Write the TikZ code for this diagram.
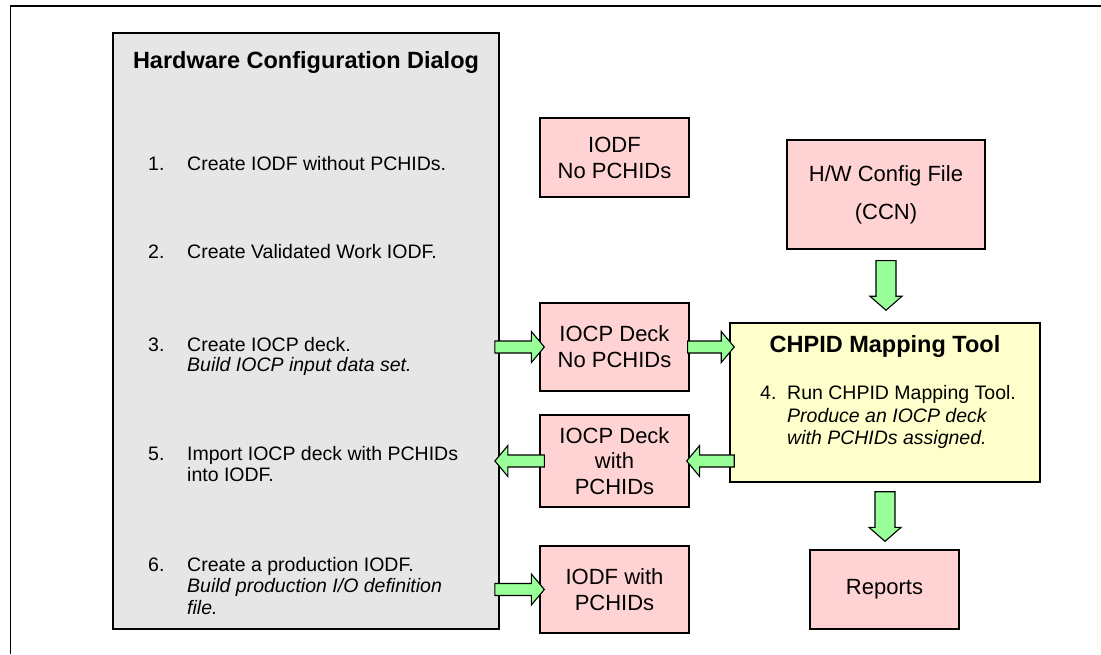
\documentclass[tikz,border=0pt]{standalone}
\usepackage{fontspec}
\setmainfont{Liberation Sans}
\usetikzlibrary{calc}
\definecolor{grayfill}{HTML}{E6E6E6}
\definecolor{pinkfill}{HTML}{FFD3D3}
\definecolor{yellowfill}{HTML}{FFFFCC}
\definecolor{arrowgreen}{HTML}{99FF99}
\tikzset{
  pinkbox/.style={draw=black, line width=1.3pt, fill=pinkfill, align=center, inner sep=0pt,
    font=\fontsize{22}{26}\selectfont},
  bigbox/.style={draw=black, line width=1.8pt, inner sep=0pt},
  itemtext/.style={anchor=base west, inner sep=0pt, font=\fontsize{19.5}{21.5}\selectfont},
  titletext/.style={anchor=base, inner sep=0pt, font=\fontsize{23.5}{26}\selectfont\bfseries},
  blockarrow/.style n args={3}{draw=black, line width=1.1pt, fill=arrowgreen, line join=miter,
    to path={
      ($(\tikztostart)!#1!90:(\tikztotarget)$)
      -- ($($(\tikztotarget)!#3!(\tikztostart)$)!#1!90:(\tikztotarget)$)
      -- ($($(\tikztotarget)!#3!(\tikztostart)$)!#2!90:(\tikztotarget)$)
      -- (\tikztotarget)
      -- ($($(\tikztotarget)!#3!(\tikztostart)$)!#2!-90:(\tikztotarget)$)
      -- ($($(\tikztotarget)!#3!(\tikztostart)$)!#1!-90:(\tikztotarget)$)
      -- ($(\tikztostart)!#1!-90:(\tikztotarget)$)
      -- cycle
    }},
  harrow/.style={blockarrow={6pt}{15.5pt}{13pt}},
  varrow/.style={blockarrow={10pt}{16pt}{14pt}},
}
\begin{document}
\begin{tikzpicture}[x=1pt,y=-1pt]
\useasboundingbox (0,0) rectangle (1101,654);
% outer frame
\draw[line width=1.3pt] (1101,6) -- (10.7,6) -- (10.7,654);

% Hardware Configuration Dialog
\node[bigbox, fill=grayfill, minimum width=386pt, minimum height=596pt] (hcd) at (306,331) {};
\node[titletext] (hcdtitle) at (306,68) {Hardware Configuration Dialog};
\node[itemtext] (n1) at (148,170) {1.};
\node[itemtext] (t1) at (187,170) {Create IODF without PCHIDs.};
\node[itemtext] (n2) at (148,258) {2.};
\node[itemtext] (t2) at (187,258) {Create Validated Work IODF.};
\node[itemtext] (n3) at (148,351) {3.};
\node[itemtext] (t3a) at (187,351) {Create IOCP deck.};
\node[itemtext] (t3b) at (187,371) {\itshape Build IOCP input data set.};
\node[itemtext] (n5) at (148,460) {5.};
\node[itemtext] (t5a) at (187,460) {Import IOCP deck with PCHIDs};
\node[itemtext] (t5b) at (187,481) {into IODF.};
\node[itemtext] (n6) at (148,571) {6.};
\node[itemtext] (t6a) at (187,571) {Create a production IODF.};
\node[itemtext] (t6b) at (187,592) {\itshape Build production I/O definition};
\node[itemtext] (t6c) at (187,614) {\itshape file.};

% pink boxes
\node[pinkbox, minimum width=149pt, minimum height=79pt] (iodfno) at (614.5,157.5) {IODF\\No PCHIDs};
\node[pinkbox, minimum width=198pt, minimum height=109pt, font=\fontsize{22}{38}\selectfont] (hw) at (886,194.5) {H/W Config File\\(CCN)};
\node[pinkbox, minimum width=149pt, minimum height=88pt] (iocpno) at (614.5,347) {IOCP Deck\\No PCHIDs};
\node[pinkbox, minimum width=149pt, minimum height=92pt, font=\fontsize{22}{25.5}\selectfont] (iocpw) at (614.5,461) {IOCP Deck\\with\\PCHIDs};
\node[pinkbox, minimum width=149pt, minimum height=87pt] (iodfw) at (614.5,589.5) {IODF with\\PCHIDs};
\node[pinkbox, minimum width=149pt, minimum height=79pt] (reports) at (884.5,589.5) {Reports};

% CHPID Mapping Tool
\node[bigbox, line width=1.5pt, fill=yellowfill, minimum width=310pt, minimum height=159pt] (chpid) at (885,402.5) {};
\node[titletext] (cmttitle) at (885,352) {CHPID Mapping Tool};
\node[itemtext] (n4) at (760,399) {4.};
\node[itemtext] (t4a) at (787,399) {Run CHPID Mapping Tool.};
\node[itemtext] (t4b) at (787,422) {\itshape Produce an IOCP deck};
\node[itemtext] (t4c) at (787,444) {\itshape with PCHIDs assigned.};

% arrow end points
\coordinate (a3s) at ($(hcd.east |- iocpno.west)+(-5,0)$);
\coordinate (a3e) at ($(iocpno.west)+(5,0)$);
\coordinate (a4s) at ($(iocpno.east)+(-2,0)$);
\coordinate (a4e) at ($(chpid.west |- iocpno.east)+(5,0)$);
\coordinate (a5s) at ($(chpid.west |- iocpw.east)+(5,0)$);
\coordinate (a5e) at ($(iocpw.east)+(-3,0)$);
\coordinate (a6s) at ($(iocpw.west)+(5,0)$);
\coordinate (a6e) at ($(hcd.east |- iocpw.west)+(-5,0)$);
\coordinate (a7s) at ($(hcd.east |- iodfw.west)+(-5,0)$);
\coordinate (a7e) at ($(iodfw.west)+(5,0)$);
\coordinate (a8s) at ($(hw.south)+(0,11)$);
\coordinate (a8e) at ($(hw.south |- chpid.north)+(0,-12)$);
\coordinate (a9s) at ($(chpid.south)+(0,9)$);
\coordinate (a9e) at ($(chpid.south |- reports.north)+(0,-8)$);

\draw[harrow] (a3s) to (a3e);
\draw[harrow] (a4s) to (a4e);
\draw[harrow] (a5s) to (a5e);
\draw[harrow] (a6s) to (a6e);
\draw[harrow] (a7s) to (a7e);
\draw[varrow] (a8s) to (a8e);
\draw[varrow] (a9s) to (a9e);
\end{tikzpicture}
\end{document}
